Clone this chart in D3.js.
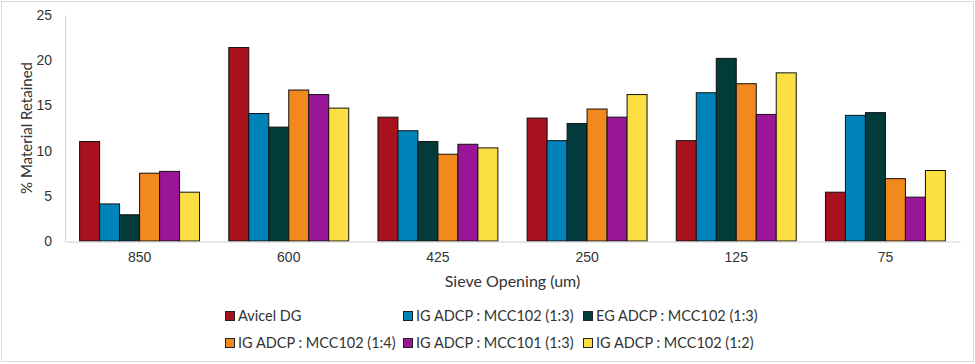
<!DOCTYPE html>
<html>
<head>
<meta charset="utf-8">
<script src="https://cdn.jsdelivr.net/npm/d3@7"></script>
<style>
    body { margin: 0; background: #fff; }
    svg { display: block; font-family: Lato, "Noto Sans", sans-serif; }
</style>
</head>
<body>
<div id="chart"></div>
<script>
// sieve analysis: % material retained per sieve opening
const sieves = ["850", "600", "425", "250", "125", "75"];
const seriesNames = [
    "Avicel DG",
    "IG ADCP : MCC102 (1:3)",
    "EG ADCP : MCC102 (1:3)",
    "IG ADCP : MCC102 (1:4)",
    "IG ADCP : MCC101 (1:3)",
    "IG ADCP : MCC102 (1:2)"
];
const avicelDG   = [11.0, 21.4, 13.7, 13.6, 11.1, 5.4];
const igMcc102_13 = [4.1, 14.1, 12.2, 11.1, 16.4, 13.9];
const egMcc102_13 = [2.9, 12.6, 11.0, 13.0, 20.2, 14.2];
const igMcc102_14 = [7.5, 16.7, 9.6, 14.6, 17.4, 6.9];
const igMcc101_13 = [7.7, 16.2, 10.7, 13.7, 14.0, 4.85];
const igMcc102_12 = [5.4, 14.7, 10.3, 16.2, 18.6, 7.8];
const yTicks = [0, 5, 10, 15, 20, 25];

const seriesValues = [avicelDG, igMcc102_13, egMcc102_13, igMcc102_14, igMcc101_13, igMcc102_12];
const colors = ["#A8111E", "#0083B8", "#033B3A", "#F2891F", "#9B1598", "#FCE043"];

const width = 975, height = 364;
const margin = { top: 15, right: 15, bottom: 123, left: 65 };
const fontSize = 14;

const svg = d3.select("#chart").append("svg")
    .attr("width", width)
    .attr("height", height);

// chart border
svg.append("rect")
    .attr("x", 1.5).attr("y", 1.5)
    .attr("width", width - 3).attr("height", height - 4)
    .attr("fill", "none")
    .attr("stroke", "#d9d9d9")
    .attr("stroke-width", 1);

const g = svg.append("g").attr("transform", `translate(${margin.left},${margin.top})`);
const w = width - margin.left - margin.right;
const h = height - margin.top - margin.bottom;

const x0 = d3.scaleBand().domain(sieves).range([0, w]).paddingInner(0.196).paddingOuter(0.098);
const x1 = d3.scaleBand().domain(d3.range(seriesNames.length)).range([0, x0.bandwidth()]);
const y = d3.scaleLinear().domain([0, 25]).range([h, 0]);

// y axis
const yAxis = g.append("g")
    .call(d3.axisLeft(y).tickValues(yTicks).tickSize(0).tickPadding(13));
yAxis.select(".domain").attr("stroke", "#d0d0d0");
yAxis.selectAll("text").attr("font-size", fontSize).attr("fill", "#333");

// bars
const groups = g.selectAll(".grp")
    .data(sieves)
    .enter().append("g")
    .attr("class", "grp")
    .attr("transform", d => `translate(${x0(d)},0)`);

groups.selectAll("rect")
    .data((d, i) => seriesValues.map((vals, s) => ({ s: s, v: vals[i] })))
    .enter().append("rect")
    .attr("x", d => x1(d.s))
    .attr("y", d => y(d.v))
    .attr("width", x1.bandwidth())
    .attr("height", d => h - y(d.v))
    .attr("fill", d => colors[d.s])
    .attr("stroke", "#111")
    .attr("stroke-width", 1);

// x axis
const xAxis = g.append("g")
    .attr("transform", `translate(0,${h + 0.5})`)
    .call(d3.axisBottom(x0).tickSize(0).tickSizeOuter(0).tickPadding(11));
xAxis.select(".domain").attr("stroke", "#d0d0d0");
xAxis.selectAll("text").attr("font-size", fontSize).attr("fill", "#333");

// axis titles
svg.append("text")
    .attr("transform", `translate(27,${margin.top + h / 2}) rotate(-90)`)
    .attr("text-anchor", "middle")
    .attr("dy", "0.35em")
    .attr("font-size", 15)
    .attr("fill", "#333")
    .text("% Material Retained");

svg.append("text")
    .attr("x", margin.left + w / 2)
    .attr("y", 281)
    .attr("dy", "0.35em")
    .attr("text-anchor", "middle")
    .attr("font-size", 16)
    .attr("fill", "#333")
    .text("Sieve Opening (um)");

// legend (2 rows x 3 columns)
const legendX = [225, 403, 583];
const legendY = [316, 343];
const legend = svg.selectAll(".legend")
    .data(seriesNames)
    .enter().append("g")
    .attr("class", "legend")
    .attr("transform", (d, i) => `translate(${legendX[i % 3]},${legendY[Math.floor(i / 3)]})`);

legend.append("rect")
    .attr("x", 0.5).attr("y", -4.5)
    .attr("width", 9).attr("height", 9)
    .attr("fill", (d, i) => colors[i])
    .attr("stroke", "#222")
    .attr("stroke-width", 1);

legend.append("text")
    .attr("x", 13)
    .attr("y", 0)
    .attr("dy", "0.35em")
    .attr("font-size", 14.5)
    .attr("fill", "#333")
    .text(d => d);
</script>
</body>
</html>
